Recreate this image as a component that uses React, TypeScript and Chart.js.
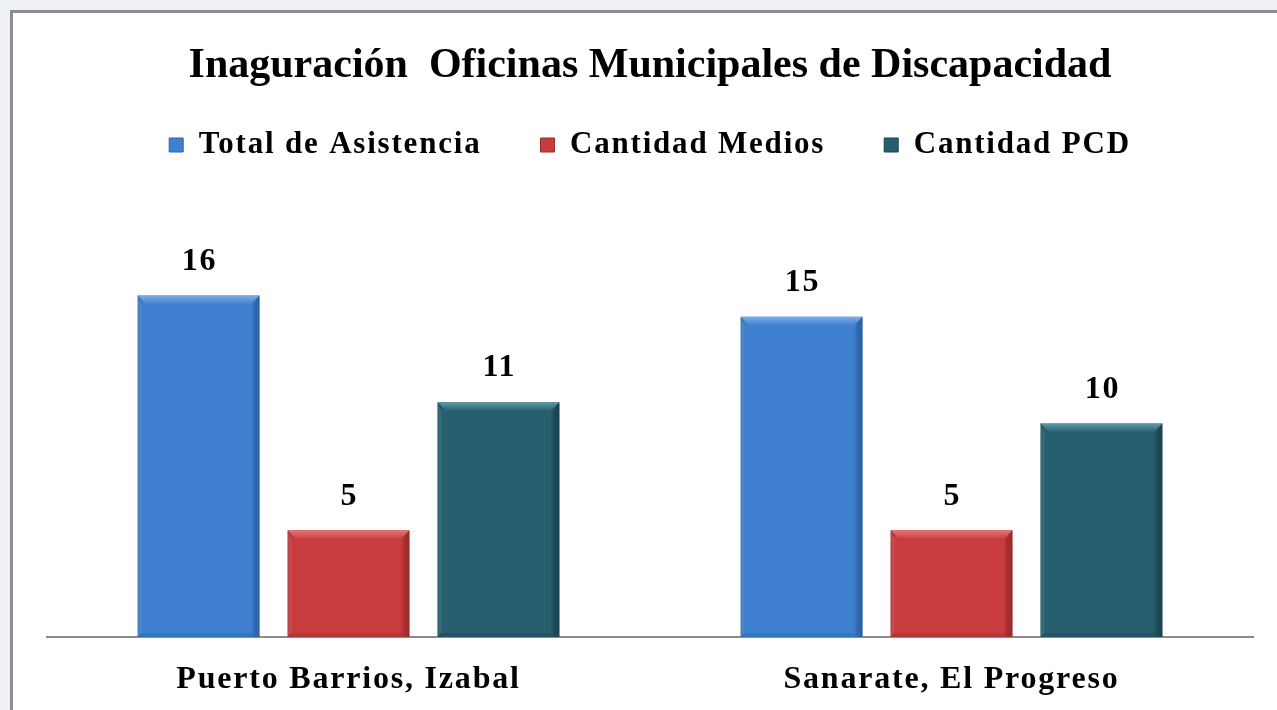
import React, { useEffect, useRef } from "react";
import { Chart, registerables } from "chart.js";

Chart.register(...registerables);

const categories = ["Puerto Barrios, Izabal", "Sanarate, El Progreso"];
const seriesNames = ["Total de Asistencia", "Cantidad Medios", "Cantidad PCD"];
const totalAsistencia = [16, 15];
const cantidadMedios = [5, 5];
const cantidadPCD = [11, 10];
const titleText = "Inaguración  Oficinas Municipales de Discapacidad";

const SERIF = "'Liberation Serif', 'Times New Roman', serif";
const SPACING = "1.8px";

const palette = [
  { base: "#4080d0", light: "#7aaee8", dark: "#2c62a6" },
  { base: "#c93c3e", light: "#e87676", dark: "#9a2a2c" },
  { base: "#275f6e", light: "#5f9aaa", dark: "#1a4450" },
];

function barFill(i: number) {
  return (ctx: any) => {
    const el = ctx.element;
    const chart = ctx.chart;
    if (!el || !chart.chartArea || el.width === undefined) return palette[i].base;
    const half = el.width / 2;
    const g = chart.ctx.createLinearGradient(el.x - half, 0, el.x + half, 0);
    g.addColorStop(0, palette[i].dark);
    g.addColorStop(0.04, palette[i].base);
    g.addColorStop(0.92, palette[i].base);
    g.addColorStop(1, palette[i].dark);
    return g;
  };
}

const spacingPlugin = {
  id: "spacing",
  afterInit(chart: any) {
    const tb = chart.titleBlock;
    if (tb && !tb.__patched) {
      const orig = tb.draw.bind(tb);
      tb.draw = (...args: any[]) => {
        const c = chart.ctx;
        const prev = c.letterSpacing;
        c.letterSpacing = "0px";
        orig(...args);
        c.letterSpacing = prev;
      };
      tb.__patched = true;
    }
  },
  beforeUpdate(chart: any) {
    chart.ctx.letterSpacing = SPACING;
  },
  beforeDraw(chart: any) {
    chart.ctx.letterSpacing = SPACING;
  },
};

const bevelPlugin = {
  id: "bevel",
  afterDatasetsDraw(chart: any) {
    const ctx = chart.ctx;
    chart.data.datasets.forEach((ds: any, i: number) => {
      const meta = chart.getDatasetMeta(i);
      meta.data.forEach((bar: any) => {
        const { x, y, base, width } = bar.getProps(["x", "y", "base", "width"], true);
        const l = x - width / 2;
        const r = x + width / 2;
        const b = 9;
        ctx.save();
        const tg = ctx.createLinearGradient(0, y, 0, y + b);
        tg.addColorStop(0, palette[i].light);
        tg.addColorStop(1, palette[i].base);
        ctx.fillStyle = tg;
        ctx.beginPath();
        ctx.moveTo(l, y);
        ctx.lineTo(r, y);
        ctx.lineTo(r - b, y + b);
        ctx.lineTo(l + b, y + b);
        ctx.closePath();
        ctx.fill();
        ctx.fillStyle = palette[i].dark;
        ctx.globalAlpha = 0.55;
        ctx.beginPath();
        ctx.moveTo(r, y);
        ctx.lineTo(r, base);
        ctx.lineTo(r - 6, base - 4);
        ctx.lineTo(r - 6, y + b);
        ctx.closePath();
        ctx.fill();
        ctx.globalAlpha = 0.35;
        ctx.beginPath();
        ctx.moveTo(l, base);
        ctx.lineTo(r, base);
        ctx.lineTo(r - 6, base - 4);
        ctx.lineTo(l + 4, base - 4);
        ctx.closePath();
        ctx.fill();
        ctx.fillStyle = palette[i].light;
        ctx.globalAlpha = 0.35;
        ctx.beginPath();
        ctx.moveTo(l, y);
        ctx.lineTo(l + 4, y + b);
        ctx.lineTo(l + 4, base - 4);
        ctx.lineTo(l, base);
        ctx.closePath();
        ctx.fill();
        ctx.restore();
      });
    });
  },
};

const labelPlugin = {
  id: "valueLabels",
  afterDatasetsDraw(chart: any) {
    const ctx = chart.ctx;
    ctx.save();
    ctx.font = `bold 32px ${SERIF}`;
    ctx.fillStyle = "#000";
    ctx.textAlign = "center";
    ctx.textBaseline = "middle";
    chart.data.datasets.forEach((ds: any, i: number) => {
      const meta = chart.getDatasetMeta(i);
      meta.data.forEach((bar: any, j: number) => {
        ctx.fillText(String(ds.data[j]), bar.x + 1, bar.y - 34);
      });
    });
    ctx.restore();
  },
};

export default function App() {
  const ref = useRef<HTMLCanvasElement>(null);
  useEffect(() => {
    if (!ref.current) return;
    const seriesData = [totalAsistencia, cantidadMedios, cantidadPCD];
    const chart = new Chart(ref.current, {
      type: "bar",
      data: {
        labels: categories,
        datasets: seriesNames.map((name, i) => ({
          label: name,
          data: seriesData[i],
          backgroundColor: barFill(i),
          borderWidth: 0,
          categoryPercentage: 0.746,
          barPercentage: 0.813,
        })),
      },
      options: {
        responsive: false,
        animation: false,
        devicePixelRatio: 1,
        layout: { padding: { left: 34, right: 24, top: 0, bottom: -13.4 } },
        plugins: {
          title: {
            display: true,
            text: titleText,
            color: "#000",
            font: { family: SERIF, size: 42, weight: "bold", lineHeight: 1 },
            padding: { top: 32, bottom: -16.5 },
          },
          legend: {
            display: true,
            labels: {
              color: "#000",
              font: { family: SERIF, size: 31, weight: "bold" },
              boxWidth: 14,
              boxHeight: 14,
              padding: 59,
              generateLabels: (c: any) =>
                c.data.datasets.map((ds: any, i: number) => ({
                  text: ds.label,
                  fillStyle: palette[i].base,
                  strokeStyle: palette[i].dark,
                  lineWidth: 1,
                  fontColor: "#000",
                  datasetIndex: i,
                  hidden: false,
                })),
            },
          },
          tooltip: { enabled: false },
        },
        scales: {
          x: {
            grid: { display: false, drawTicks: false },
            border: { display: true, color: "#8c8c8c", width: 2 },
            ticks: {
              color: "#000",
              padding: 24,
              font: { family: SERIF, size: 32, weight: "bold" },
            },
          },
          y: {
            display: false,
            min: 0,
            max: 21.85,
          },
        },
      },
      plugins: [spacingPlugin, bevelPlugin, labelPlugin],
    });
    chart.update();
    return () => chart.destroy();
  }, []);

  return (
    <div
      style={{
        position: "fixed",
        left: 0,
        top: 0,
        width: 1277,
        height: 710,
        background: "#eef2f6",
        overflow: "hidden",
      }}
    >
      <div
        style={{
          position: "absolute",
          left: 10,
          top: 10,
          width: 1290,
          height: 720,
          border: "3px solid #8c8c8c",
          background: "#ffffff",
        }}
      >
        <canvas
          ref={ref}
          width={1264}
          height={697}
          style={{ position: "absolute", left: 0, top: 0, width: 1264, height: 697 }}
        />
      </div>
    </div>
  );
}
